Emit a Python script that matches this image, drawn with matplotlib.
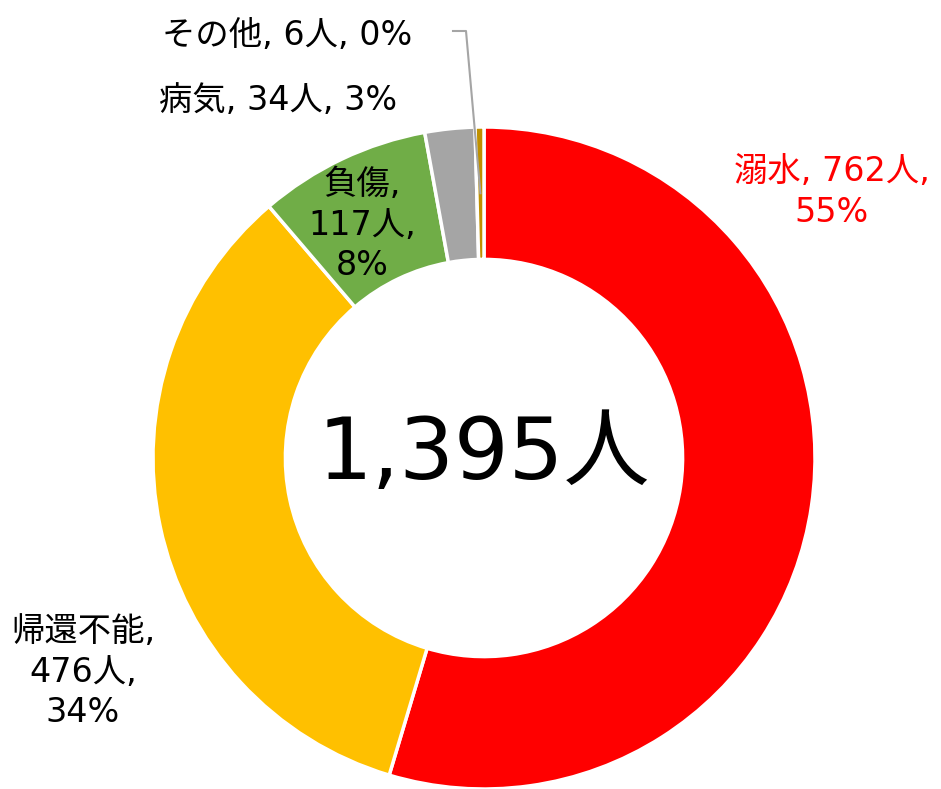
import numpy as np
import matplotlib.pyplot as plt

plt.rcParams['font.family'] = ['DejaVu Sans', 'Noto Sans CJK JP']

# データ
categories = ['溺水', '帰還不能', '負傷', '病気', 'その他']
counts = [762, 476, 117, 34, 6]
percents = [55, 34, 8, 3, 0]
colors = ['#FF0000', '#FFC000', '#70AD47', '#A5A5A5', '#BF9000']
total = sum(counts)

W, H = 941, 789
fig = plt.figure(figsize=(W / 100, H / 100), dpi=100)
ax = fig.add_axes([0, 0, 1, 1])

cx, cy, R = 484, H - 458, 331
wedges, _ = ax.pie(counts, colors=colors, startangle=90, counterclock=False,
                   center=(cx, cy), radius=R, frame=True,
                   wedgeprops=dict(width=R * 0.4, edgecolor='white', linewidth=2.5))
ax.set_xlim(0, W)
ax.set_ylim(0, H)
ax.set_aspect('equal')
ax.axis('off')

# ラベル
fs = 24
ls = 1.3
ax.text(832, H - 192, f'{categories[0]}, {counts[0]}人,\n{percents[0]}%', color='#FF0000',
        fontsize=fs, ha='center', va='center', linespacing=ls)
ax.text(83, H - 672, f'{categories[1]},\n{counts[1]}人,\n{percents[1]}%', color='black',
        fontsize=fs, ha='center', va='center', linespacing=ls)
ax.text(362, H - 225, f'{categories[2]},\n{counts[2]}人,\n{percents[2]}%', color='black',
        fontsize=fs, ha='center', va='center', linespacing=ls)
ax.text(278, H - 100, f'{categories[3]}, {counts[3]}人, {percents[3]}%', color='black',
        fontsize=fs, ha='center', va='center')
ax.text(287, H - 35, f'{categories[4]}, {counts[4]}人, {percents[4]}%', color='black',
        fontsize=fs, ha='center', va='center')

# その他の引き出し線
w = wedges[4]
mid = np.deg2rad((w.theta1 + w.theta2) / 2)
r_mid = R * 0.8
sx, sy = cx + r_mid * np.cos(mid), cy + r_mid * np.sin(mid)
ax.plot([sx, 466, 453], [sy, H - 31, H - 31], color='#A5A5A5', lw=1.5)

# 中央の合計
ax.text(cx, H - 455, f'{total:,}人', fontsize=62, ha='center', va='center')

fig.savefig('out.png', dpi=100)
